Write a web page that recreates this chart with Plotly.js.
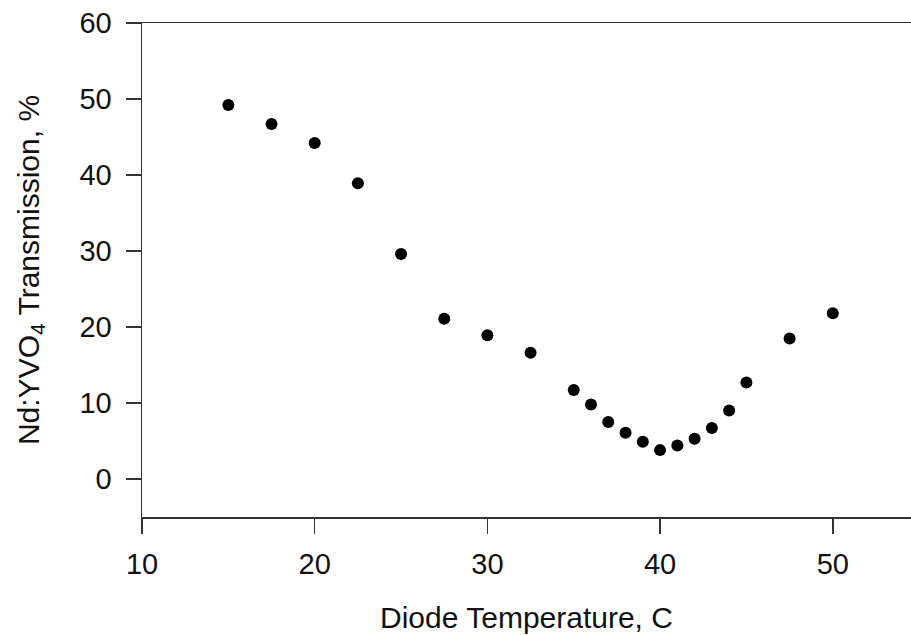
<!DOCTYPE html>
<html>
<head>
<meta charset="utf-8">
<script src="https://cdn.plot.ly/plotly-3.0.1.min.js"></script>
<style>html,body{margin:0;padding:0;background:#fff;}#chart{width:911px;height:635px;}</style>
</head>
<body>
<div id="chart"></div>
<script>
const temperature = [15, 17.5, 20, 22.5, 25, 27.5, 30, 32.5, 35, 36, 37, 38, 39, 40, 41, 42, 43, 44, 45, 47.5, 50];
const transmission = [49.2, 46.7, 44.2, 38.9, 29.6, 21.1, 18.9, 16.6, 11.7, 9.8, 7.5, 6.1, 4.9, 3.8, 4.4, 5.3, 6.7, 9.0, 12.7, 18.5, 21.8];
const xTicks = [10, 20, 30, 40, 50];
const yTicks = [0, 10, 20, 30, 40, 50, 60];

const trace = {
  x: temperature,
  y: transmission,
  type: 'scatter',
  mode: 'markers',
  marker: {color: '#000', size: 12},
  hoverinfo: 'x+y'
};

const font = {family: 'Liberation Sans, Arial, sans-serif', size: 29, color: '#111'};
const titleFont = {family: 'Liberation Sans, Arial, sans-serif', size: 30, color: '#111'};

const layout = {
  width: 911,
  height: 635,
  margin: {l: 142, r: 0, t: 23, b: 118, pad: 0},
  paper_bgcolor: '#fff',
  plot_bgcolor: '#fff',
  showlegend: false,
  font: font,
  xaxis: {
    range: [10, 54.53],
    tickvals: xTicks,
    ticktext: xTicks.map(String),
    ticks: 'outside',
    ticklen: 15,
    tickwidth: 1.5,
    tickcolor: '#333',
    tickfont: font,
    showline: true,
    linecolor: '#333',
    linewidth: 1.5,
    mirror: true,
    showgrid: false,
    zeroline: false,
    ticklabelstandoff: 6,
    title: {text: 'Diode Temperature, C', font: titleFont, standoff: 27}
  },
  yaxis: {
    range: [-5, 60],
    tickvals: yTicks,
    ticktext: yTicks.map(String),
    ticks: 'outside',
    ticklen: 15,
    tickwidth: 1.5,
    tickcolor: '#333',
    tickfont: font,
    showline: true,
    linecolor: '#333',
    linewidth: 1.5,
    mirror: false,
    showgrid: false,
    zeroline: false,
    ticklabelstandoff: 8,
    title: {text: 'Nd:YVO<sub>4</sub> Transmission, %', font: titleFont, standoff: 31}
  }
};

Plotly.newPlot('chart', [trace], layout, {displayModeBar: false, staticPlot: true});
</script>
</body>
</html>
